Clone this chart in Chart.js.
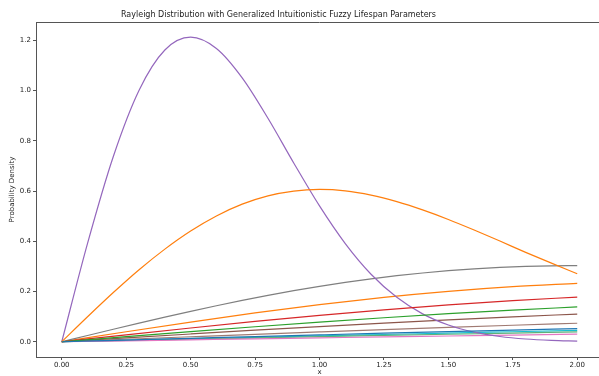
<!DOCTYPE html>
<html>
<head>
<meta charset="utf-8">
<script src="https://cdn.jsdelivr.net/npm/chart.js@4.4.0/dist/chart.umd.min.js"></script>
<style>
  html, body { margin: 0; padding: 0; background: #fff; overflow: hidden; }
  #wrap { width: 599px; height: 376px; overflow: hidden; }
</style>
</head>
<body>
<div id="wrap"><canvas id="graph1" width="610" height="376"></canvas></div>
<script>
const xFine = [0, 0.1, 0.2, 0.3, 0.4, 0.5, 0.6, 0.7, 0.8, 0.9, 1.0,
               1.1, 1.2, 1.3, 1.4, 1.5, 1.6, 1.7, 1.8, 1.9, 2.0];
const xCoarse = [0, 0.25, 0.5, 0.75, 1.0, 1.25, 1.5, 1.75, 2.0];

const xTicks = [0, 0.25, 0.5, 0.75, 1.0, 1.25, 1.5, 1.75, 2.0];
const yTicks = [0, 0.2, 0.4, 0.6, 0.8, 1.0, 1.2];

// curves (fine sampling)
const purple = [0, 0.392, 0.738, 1.002, 1.162, 1.213, 1.168, 1.051, 0.890, 0.712, 0.541,
                0.391, 0.269, 0.177, 0.111, 0.0667, 0.0382, 0.0210, 0.0110, 0.0056, 0.0027];
const orange1 = [0, 0.0995, 0.196, 0.287, 0.369, 0.441, 0.501, 0.548, 0.581, 0.600, 0.6065,
                 0.601, 0.584, 0.558, 0.525, 0.487, 0.445, 0.401, 0.356, 0.313, 0.271];
const gray = [0, 0.025, 0.0498, 0.0742, 0.098, 0.1212, 0.1434, 0.1646, 0.1846, 0.2034, 0.2206,
              0.2364, 0.2506, 0.2631, 0.2739, 0.283, 0.2904, 0.2961, 0.3002, 0.3025, 0.3033];

// flatter curves (coarse sampling)
const orange2 = [0, 0.0398, 0.0784, 0.1147, 0.1477, 0.1765, 0.2005, 0.2192, 0.2324];
const red = [0, 0.0277, 0.0548, 0.0808, 0.1051, 0.1273, 0.1471, 0.164, 0.1779];
const green = [0, 0.0204, 0.0404, 0.0598, 0.0784, 0.0957, 0.1117, 0.1261, 0.1387];
const brown1 = [0, 0.0156, 0.031, 0.0461, 0.0606, 0.0744, 0.0874, 0.0994, 0.1103];
const brown2 = [0, 0.01, 0.0199, 0.0297, 0.0392, 0.0485, 0.0574, 0.0658, 0.0738];
const blue = [0, 0.0069, 0.0138, 0.0207, 0.0274, 0.034, 0.0404, 0.0466, 0.0526];
const cyan = [0, 0.0059, 0.0118, 0.0176, 0.0234, 0.029, 0.0346, 0.0399, 0.0452];
const olive = [0, 0.0051, 0.0102, 0.0152, 0.0202, 0.0251, 0.0299, 0.0346, 0.0392];
const pink = [0, 0.0039, 0.0078, 0.0117, 0.0155, 0.0193, 0.023, 0.0267, 0.0303];

function pts(xs, ys) {
  return xs.map((x, i) => ({ x: x, y: ys[i] }));
}

function line(xs, ys, color) {
  return {
    data: pts(xs, ys),
    borderColor: color,
    backgroundColor: color,
    borderWidth: 1.2,
    pointRadius: 0,
    cubicInterpolationMode: 'monotone',
    fill: false
  };
}

const font = { family: '"DejaVu Sans", sans-serif', size: 7 };

const frame = {
  id: 'frame',
  afterDatasetsDraw(chart) {
    const a = chart.chartArea, c = chart.ctx;
    c.save();
    c.strokeStyle = '#555';
    c.lineWidth = 1;
    c.beginPath();
    c.moveTo(a.left, a.top + 0.5);
    c.lineTo(a.right, a.top + 0.5);
    c.lineTo(a.right - 0.5, a.bottom);
    c.stroke();
    c.restore();
  },
  afterDraw(chart) {
    const c = chart.ctx;
    c.save();
    c.fillStyle = '#222';
    c.font = '8px "DejaVu Sans", sans-serif';
    c.textAlign = 'center';
    c.textBaseline = 'middle';
    c.fillText('Rayleigh Distribution with Generalized Intuitionistic Fuzzy Lifespan Parameters', 278.5, 15);
    c.restore();
  }
};

new Chart(document.getElementById('graph1'), {
  type: 'line',
  data: {
    datasets: [
      line(xCoarse, blue, '#1f77b4'),
      line(xFine, orange1, '#ff7f0e'),
      line(xCoarse, green, '#2ca02c'),
      line(xCoarse, red, '#d62728'),
      line(xFine, purple, '#9467bd'),
      line(xCoarse, brown1, '#8c564b'),
      line(xCoarse, pink, '#e377c2'),
      line(xFine, gray, '#7f7f7f'),
      line(xCoarse, olive, '#5fb07a'),
      line(xCoarse, cyan, '#17becf'),
      line(xCoarse, orange2, '#ff7f0e'),
      line(xCoarse, brown2, '#a07a72')
    ]
  },
  options: {
    responsive: false,
    animation: false,
    events: [],
    layout: { padding: { left: 0, right: 7, top: 22, bottom: 0 } },
    plugins: { legend: { display: false }, tooltip: { enabled: false } },
    scales: {
      x: {
        type: 'linear',
        min: -0.1,
        max: 2.1,
        afterBuildTicks: s => { s.ticks = xTicks.map(v => ({ value: v })); },
        afterFit: s => { s.height = 19; },
        grid: { display: true, drawOnChartArea: false, drawTicks: true, tickLength: 3, color: '#555' },
        border: { display: true, color: '#555', width: 1 },
        ticks: { font: font, color: '#222', padding: 1, maxRotation: 0,
                 callback: v => Number(v).toFixed(2) },
        title: { display: true, text: 'x', font: font, color: '#222', padding: { top: 0, bottom: 0 } }
      },
      y: {
        type: 'linear',
        min: -0.0607,
        max: 1.2735,
        afterBuildTicks: s => { s.ticks = yTicks.map(v => ({ value: v })); },
        afterFit: s => { s.width = 36; },
        grid: { display: true, drawOnChartArea: false, drawTicks: true, tickLength: 3, color: '#555' },
        border: { display: true, color: '#555', width: 1 },
        ticks: { font: font, color: '#222', padding: 2,
                 callback: v => Number(v).toFixed(1) },
        title: { display: true, text: 'Probability Density', font: font, color: '#222', padding: { top: 7.5, bottom: 0 } }
      }
    }
  },
  plugins: [frame]
});
</script>
</body>
</html>
